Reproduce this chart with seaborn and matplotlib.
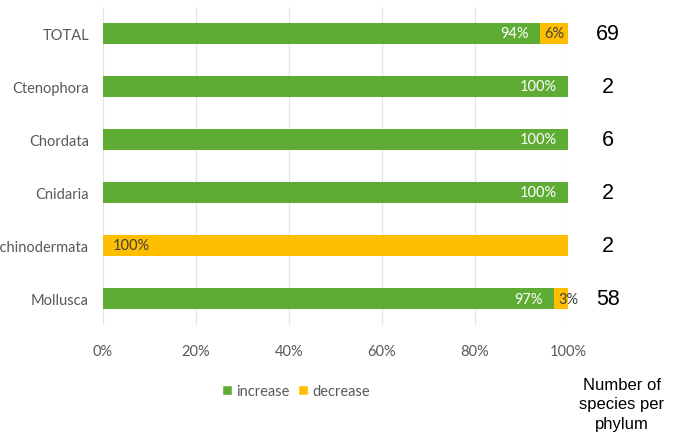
import matplotlib
matplotlib.use("Agg")
import matplotlib.pyplot as plt
from matplotlib.patches import Patch
import pandas as pd
import seaborn as sns

categories = ["TOTAL", "Ctenophora", "Chordata", "Cnidaria", "Echinodermata", "Mollusca"]
increase = [94, 100, 100, 100, 0, 97]
decrease = [6, 0, 0, 0, 100, 3]
species_counts = [69, 2, 6, 2, 2, 58]
x_ticks = [0, 20, 40, 60, 80, 100]

GREEN = "#5eac33"
ORANGE = "#ffbf00"
TEXT = "#595959"

sns.set_style("white")
plt.rcParams["font.family"] = ["Lato", "DejaVu Sans"]

df = pd.DataFrame({
    "phylum": categories,
    "increase": increase,
    "decrease": decrease,
})
df["total"] = df["increase"] + df["decrease"]

fig = plt.figure(figsize=(6.86, 4.39), dpi=100)
ax = fig.add_axes([0.150, 0.2574, 0.678, 0.7244])

# stacked bars: full length in orange, increase share overlaid in green
sns.barplot(data=df, y="phylum", x="total", color=ORANGE, width=0.41,
            orient="h", ax=ax, saturation=1, linewidth=0)
sns.barplot(data=df, y="phylum", x="increase", color=GREEN, width=0.41,
            orient="h", ax=ax, saturation=1, linewidth=0)

ax.set_xlim(0, 100)
ax.set_ylim(len(categories) - 0.5, -0.5)
ax.set_xticks(x_ticks)
ax.set_xticklabels([f"{t}%" for t in x_ticks], color=TEXT, fontsize=10.5)
ax.tick_params(axis="y", labelsize=10.5, labelcolor=TEXT, length=0, pad=10)
ax.tick_params(axis="x", length=0, pad=14)
ax.set_xlabel("")
ax.set_ylabel("")
ax.xaxis.grid(True, color="#e3e3e3", linewidth=0.9)
ax.set_axisbelow(True)
for s in ax.spines.values():
    s.set_visible(False)

# value labels
for i, (inc, dec) in enumerate(zip(increase, decrease)):
    if inc > 0:
        ax.annotate(f"{inc}%", xy=(inc, i), xytext=(-8, 0), textcoords="offset points",
                    ha="right", va="center", color="white", fontsize=10.5)
    if dec > 0:
        ax.annotate(f"{dec}%", xy=(inc, i), xytext=(3 if inc > 0 else 7, 0),
                    textcoords="offset points", ha="left", va="center",
                    color="#404040", fontsize=10.5)

# species count per phylum, right of the bars
for i, n in enumerate(species_counts):
    ax.annotate(str(n), xy=(100, i), xytext=(29, 0), textcoords="offset points",
                ha="center", va="center", fontsize=15.5, color="black",
                family="Liberation Sans", annotation_clip=False)

fig.text(622 / 686, 1 - 405 / 439, "Number of\nspecies per\nphylum", ha="center",
         va="center", fontsize=12, family="Liberation Sans", color="black",
         linespacing=1.4)

handles = [Patch(facecolor=GREEN, label="increase"), Patch(facecolor=ORANGE, label="decrease")]
fig.legend(handles=handles, loc="center", bbox_to_anchor=(296 / 686, 1 - 392 / 439),
           ncol=2, frameon=False, fontsize=10.5, labelcolor=TEXT, handlelength=0.7,
           handleheight=0.7, handletextpad=0.3, columnspacing=0.6)

fig.savefig("out.png", dpi=100)
